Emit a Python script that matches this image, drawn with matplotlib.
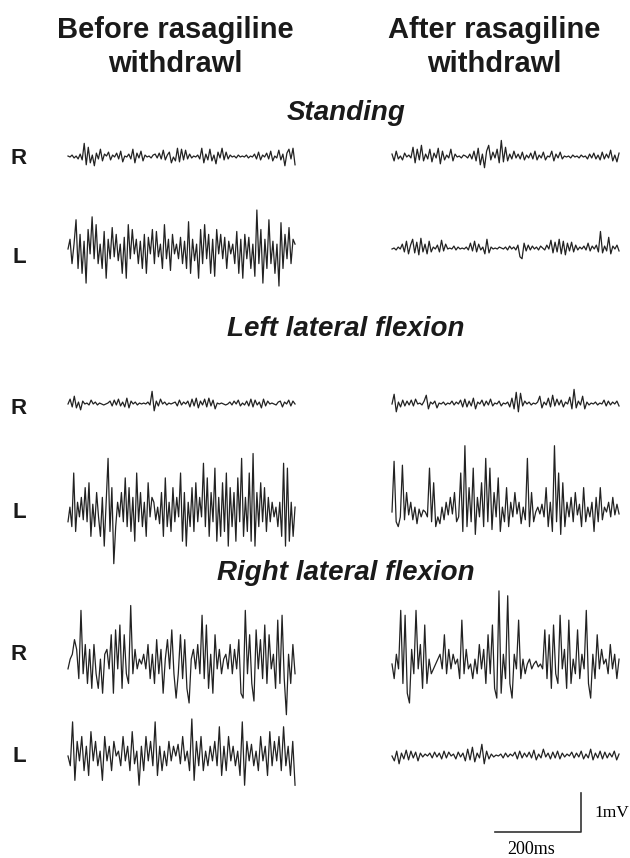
import numpy as np
import matplotlib
matplotlib.use("Agg")
import matplotlib.pyplot as plt

# ---------------- data (amplitudes in units of 0.025 mV, up positive) ----------------
conditions = ["Standing", "Left lateral flexion", "Right lateral flexion"]
columns = ["Before rasagiline\nwithdrawl", "After rasagiline\nwithdrawl"]
sides = ["R", "L"]

standing_R_before = [1,0,2,-1,1,-2,3,-3,14,-8,10,-6,2,-9,4,-2,8,-4,3,1,5,-3,2,0,4,-2,6,-5,1,0,3,-2,8,-6,4,-1,6,-4,2,0,1,-1,2,3,-1,4,-2,7,-3,2,5,-6,0,-4,9,-5,8,-3,7,-2,3,-1,1,0,2,-2,9,-6,3,-3,8,-4,2,-7,5,-1,9,-3,5,-2,2,0,1,-1,2,0,1,0,2,-1,1,0,3,-2,5,-3,2,0,4,-2,6,-4,1,-1,7,-3,3,-9,4,8,-2,9,-8]
standing_L_before = [0,10,-15,5,30,-20,15,-25,8,-35,20,-5,33,-10,25,-15,5,-20,18,-30,10,-10,22,-8,15,-12,5,-25,12,-30,25,-10,20,-5,10,-15,8,-20,15,-25,12,-5,20,-15,18,-8,5,-20,25,-10,10,-22,15,-5,5,-10,12,-15,8,-20,28,-25,10,-12,5,-30,20,-15,25,-10,15,-25,10,-28,20,-5,15,-10,12,-20,8,-5,5,-15,18,-25,10,-30,15,-10,12,-20,5,-28,40,-15,20,-35,10,-20,30,-15,8,-25,5,-38,27,-20,15,-10,22,-15,10,5]
standing_R_after = [3,-4,6,-2,1,-3,4,0,2,-1,10,-6,8,-3,12,-4,3,-2,8,-5,4,-1,9,-7,6,-3,2,-1,8,-4,3,0,1,-1,2,1,-1,3,-2,6,-4,9,-8,3,-11,6,12,-3,5,-1,8,-6,17,-5,10,-4,3,-2,6,-1,3,-2,5,-3,2,-1,4,-2,6,-3,2,-1,5,-3,1,0,6,-4,3,-1,5,-2,1,0,1,-1,2,0,1,-1,2,0,1,-2,3,-1,4,-2,2,-3,5,-2,3,-1,7,-4,2,-5,4]
standing_L_after = [0,1,-1,2,0,5,-3,8,-5,4,10,-4,7,-6,11,-3,5,-5,8,-3,2,0,4,-3,9,-2,5,0,1,0,3,-1,2,0,1,0,2,-1,6,-2,8,-3,5,-1,2,-5,10,-4,2,0,1,0,2,1,0,2,-1,3,0,2,-1,4,-8,-10,6,-2,4,-1,3,0,2,-1,3,1,-1,4,0,9,-4,7,-3,10,-5,8,-6,6,-2,7,-3,4,-1,2,0,3,-1,6,-2,3,0,4,-3,18,-4,3,-2,12,-5,3,0,4,-2]

leftflex_R_before = [0,5,-3,8,-4,2,-6,3,0,1,-1,4,0,2,-1,1,0,-1,0,1,3,-2,4,-1,5,-2,2,-3,6,-4,3,0,2,-1,1,0,1,0,2,-1,13,-7,3,-2,5,0,2,-1,1,0,1,2,-2,4,-1,2,0,3,-3,5,-2,6,-4,3,-1,5,-3,6,-2,4,-5,1,0,1,0,-1,0,2,-1,3,0,4,-2,1,-1,3,-2,5,-3,4,-1,2,-4,5,-2,3,0,1,0,-1,2,3,-3,2,0,4,-2,3,0]
leftflex_L_before = [-10,5,-15,40,-20,10,-5,15,-8,25,-10,30,-25,8,-15,20,-5,-25,15,-35,10,55,-20,25,-53,-15,10,-5,20,-10,35,-15,25,-20,15,-30,40,-10,20,-15,10,-25,30,-5,15,10,-8,5,-12,20,-25,35,-15,10,-20,25,-10,15,-5,40,-30,20,-35,10,-15,25,-20,30,-10,15,-5,50,-15,35,-25,20,-10,45,-30,15,-25,30,-20,40,-35,25,-15,20,-30,35,-10,55,-25,15,-20,40,-30,60,-35,20,-15,30,-10,25,-20,15,-10,10,-5,5,-15,10,-25,50,-35,45,-30,10,-25,5]
leftflex_R_after = [0,10,-8,2,-3,4,-2,3,-1,4,-2,5,0,1,-1,3,9,-5,2,0,3,-4,1,0,2,-1,1,0,3,-1,2,0,4,-3,5,-3,3,-2,6,-5,2,0,4,-2,3,-1,5,-2,1,0,3,-2,1,0,2,-3,6,-5,12,-8,11,-2,3,0,2,-1,1,0,2,8,-4,2,-1,6,-3,9,-2,5,-1,4,-3,2,0,7,-5,15,-4,3,-1,8,-5,2,-1,1,0,2,-1,1,0,4,-2,3,-1,2,0,3,-2]
leftflex_L_after = [0,52,-10,-15,-5,48,-8,20,-3,10,-8,5,-12,3,-5,2,0,-5,45,-10,30,-15,-5,-12,5,-8,10,-3,15,-2,20,-10,-5,40,-20,68,-15,25,-10,45,-23,15,-5,30,-15,55,-10,45,-18,20,-5,35,-20,5,-10,25,-15,10,-5,20,-2,10,-12,5,-8,55,-15,20,-10,0,5,-2,8,-5,25,-15,10,-20,68,-10,40,-23,30,-15,10,-5,15,-10,20,-3,8,-15,25,-10,5,-5,10,-20,15,-10,25,-8,5,0,10,-5,15,-3,8,-2]

rightflex_R_before = [-5,5,10,25,15,-15,55,-10,20,-20,15,-25,20,-10,-25,5,-30,10,15,-5,30,-30,35,-5,40,-25,30,-10,-20,60,-10,15,-5,5,0,10,-5,20,-15,10,-20,25,-10,15,-30,5,25,-5,35,-10,-35,-10,30,-15,25,-25,-40,5,15,-5,20,-10,50,-15,40,-25,10,-30,30,-5,15,-10,5,10,-5,20,-10,15,-5,25,-30,-35,55,-10,30,-20,-38,35,-5,25,-15,40,-20,30,-5,10,-25,45,-20,50,-15,-52,10,-20,20,-10]
rightflex_L_before = [0,-10,35,-25,15,-5,20,-15,10,-20,25,-5,15,-10,5,-25,20,-5,10,-15,15,0,5,-10,20,-5,10,-15,25,-8,5,-30,10,-15,20,-5,15,-10,35,-20,10,-15,5,-10,15,-5,10,0,12,-8,20,-5,5,-15,38,-25,15,-10,20,-15,5,-10,10,-5,15,-10,30,-20,10,-15,20,-5,10,-10,5,-20,35,-30,15,-5,12,-10,5,-15,20,-5,10,-20,25,-10,15,-5,20,-15,30,-10,10,-20,15,-30]
rightflex_R_after = [0,-15,10,-5,55,-20,50,-30,-40,15,-10,55,-5,20,-25,40,-20,5,-10,-5,0,5,10,-5,30,-10,15,-5,10,0,5,-15,45,-10,15,-5,0,-15,5,-10,20,-5,15,-20,30,-10,40,-25,-35,75,-30,10,-15,70,-20,-35,10,-5,45,-15,5,-10,0,5,-5,0,3,-3,0,-5,35,-15,30,-25,40,-10,-20,50,-5,15,-25,45,-20,5,-10,35,-15,10,-5,55,-20,-35,10,-15,30,-5,15,0,5,-10,20,-5,10,-15,5]
rightflex_L_after = [0,-5,5,-8,3,-3,6,-4,5,-2,4,-5,3,-1,2,0,3,-2,4,-1,3,-3,5,-2,4,0,2,-3,4,-1,3,-5,7,-4,9,-6,3,-2,12,-8,5,-3,2,-1,1,0,2,-2,3,-1,2,0,4,-3,5,-2,3,-1,4,-2,6,-4,2,-2,7,-1,3,-3,4,-2,5,-3,3,-1,2,0,4,-2,3,-1,5,-3,2,-2,7,-4,3,-2,5,-3,4,-2,3,-1,5,-4,2]

traces = {
    ("Standing", "R"): (standing_R_before, standing_R_after),
    ("Standing", "L"): (standing_L_before, standing_L_after),
    ("Left lateral flexion", "R"): (leftflex_R_before, leftflex_R_after),
    ("Left lateral flexion", "L"): (leftflex_L_before, leftflex_L_after),
    ("Right lateral flexion", "R"): (rightflex_R_before, rightflex_R_after),
    ("Right lateral flexion", "L"): (rightflex_L_before, rightflex_L_after),
}
AMP_UNIT_MV = 0.025     # one stored unit = 0.025 mV
TRACE_MS = 528          # duration of each trace
scalebar_mv = 1
scalebar_ms = 200

# ---------------- layout (pixels) ----------------
W, H = 630, 858
PX_PER_MS = 86 / 200
PX_PER_MV = 39
col_x0 = [68, 392]
row_base = {("Standing", "R"): 157, ("Standing", "L"): 249,
            ("Left lateral flexion", "R"): 404, ("Left lateral flexion", "L"): 512,
            ("Right lateral flexion", "R"): 664, ("Right lateral flexion", "L"): 756}
label_y = {("Standing", "R"): 158, ("Standing", "L"): 258,
           ("Left lateral flexion", "R"): 409, ("Left lateral flexion", "L"): 512,
           ("Right lateral flexion", "R"): 654, ("Right lateral flexion", "L"): 756}
title_y = {"Standing": 113, "Left lateral flexion": 329, "Right lateral flexion": 573}

fig = plt.figure(figsize=(W / 100, H / 100), dpi=100)
ax = fig.add_axes([0, 0, 1, 1])
ax.set_xlim(0, W / PX_PER_MS)          # ms
ax.set_ylim(-H / PX_PER_MV, 0)         # mV, 0 at top
ax.axis("off")

def ms(px):
    return px / PX_PER_MS

def mv(px):
    return -px / PX_PER_MV

for key, pair in traces.items():
    for ci, vals in enumerate(pair):
        v = np.asarray(vals, float) * AMP_UNIT_MV
        t = np.linspace(0, TRACE_MS, len(v))
        ax.plot(ms(col_x0[ci]) + t, mv(row_base[key]) + v, color="#222222", lw=0.9)

sans = ["Liberation Sans", "DejaVu Sans"]
serif = ["Liberation Serif", "DejaVu Serif"]

# column headers
for cx, txt in zip([175, 494], columns):
    fig.text(cx / W, 1 - 47 / H, txt, ha="center", va="center", fontsize=21,
             fontweight="bold", family=sans, linespacing=1.3, color="#1a1a1a")

for c in conditions:
    fig.text(346 / W, 1 - title_y[c] / H, c, ha="center", va="center", fontsize=20,
             fontweight="bold", fontstyle="italic", family=sans, color="#1a1a1a")

for key, y in label_y.items():
    fig.text(19 / W, 1 - y / H, key[1], ha="center", va="center", fontsize=16,
             fontweight="bold", family=sans, color="#1a1a1a")

# scale bar
bx, by = 581, 832
ax.plot([ms(bx) - scalebar_ms, ms(bx), ms(bx)],
        [mv(by), mv(by), mv(by) + scalebar_mv], color="#333333", lw=1.2)
fig.text(594 / W, 1 - 813 / H, "1mV", ha="left", va="center", fontsize=12.5, family=serif)
fig.text(531 / W, 1 - 850 / H, "200ms", ha="center", va="center", fontsize=13, family=serif)

fig.savefig("out.png", dpi=100, facecolor="white")
